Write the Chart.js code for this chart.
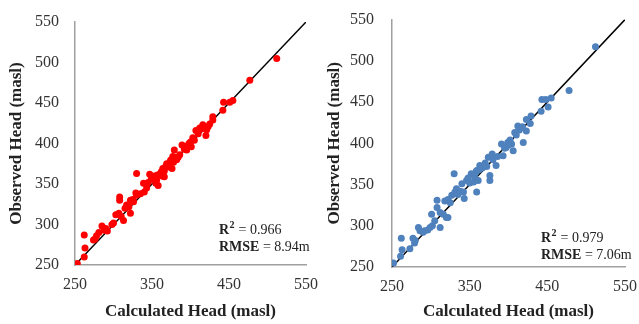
<!DOCTYPE html>
<html>
<head>
<meta charset="utf-8">
<script src="https://cdn.jsdelivr.net/npm/chart.js@4/dist/chart.umd.min.js"></script>
<style>
  body { margin: 0; background: #fff; }
  .wrap { position: absolute; top: 0; height: 324px; }
</style>
</head>
<body>
<div class="wrap" style="left:0;width:320px"><canvas id="chartA" width="320" height="324"></canvas></div>
<div class="wrap" style="left:320px;width:319px"><canvas id="chartB" width="319" height="324"></canvas></div>
<script>
// axis ticks (both panels)
const xTicks = [250, 350, 450, 550];
const yTicks = [250, 300, 350, 400, 450, 500, 550];
const oneToOne = [250, 550];

// left panel: calculated vs observed head (red)
const calcA = [253, 262, 263, 262, 276, 278, 274, 285, 288, 290, 300, 303, 307, 313, 308, 308,
  315, 317, 322, 322, 325, 330, 329, 330, 339, 343, 347, 351, 355, 358, 357, 362, 364, 366,
  369, 371, 374, 376, 377, 379, 382, 386, 389, 395, 398, 401, 403, 407, 412, 416, 420, 423,
  429, 429, 442, 443, 451, 455, 477, 512,
  345, 349, 353, 356, 360, 363, 366, 368, 372, 375, 378, 380, 384, 392, 396, 400, 405, 410,
  414, 418, 421, 425, 298, 310, 320, 326, 335, 340, 281, 292];
const obsA = [252, 260, 271, 287, 282, 286, 281, 298, 293, 295, 302, 312, 314, 305, 330, 334,
  320, 324, 314, 330, 331, 336, 339, 363, 351, 345, 362, 357, 351, 348, 361, 365, 369, 359,
  375, 371, 379, 369, 384, 392, 380, 386, 398, 392, 400, 396, 407, 416, 419, 423, 410, 421,
  433, 429, 441, 451, 451, 453, 478, 505,
  352, 356, 360, 355, 362, 360, 366, 372, 375, 380, 377, 383, 383, 393, 397, 402, 404, 412,
  418, 420, 417, 424, 300, 310, 322, 328, 338, 340, 290, 292];

// right panel: calculated vs observed head (blue)
const calcB = [252, 261, 263, 262, 273, 277, 279, 284, 286, 290, 299, 302, 301, 308, 308, 305,
  312, 316, 320, 322, 318, 322, 327, 331, 333, 330, 340, 343, 342, 346, 352, 359, 355, 361,
  359, 363, 367, 374, 376, 376, 379, 384, 391, 393, 397, 399, 404, 406, 408, 412, 416, 419,
  423, 423, 429, 428, 442, 443, 448, 451, 455, 478, 512,
  338, 348, 350, 356, 358, 362, 366, 370, 372, 380, 386, 395, 400, 402, 410, 414, 418, 296,
  312, 325, 335, 280, 292];
const obsB = [255, 263, 271, 285, 272, 285, 279, 298, 294, 292, 298, 300, 314, 322, 331, 306,
  298, 314, 310, 310, 330, 332, 337, 341, 345, 363, 351, 333, 341, 355, 363, 367, 353, 355,
  341, 373, 371, 383, 361, 355, 387, 373, 399, 385, 395, 401, 399, 391, 413, 421, 419, 401,
  415, 429, 433, 424, 439, 453, 453, 444, 455, 464, 517,
  342, 358, 352, 360, 365, 368, 370, 376, 372, 380, 384, 394, 398, 404, 410, 416, 420, 295,
  316, 328, 338, 282, 294];

function toPoints(xs, ys) {
  return xs.map((x, i) => ({ x: x, y: ys[i] }));
}

// stats text drawn in lower-right of plot area
function statsPlugin(r2, rmse, dx, dy) {
  return {
    id: 'stats',
    afterDraw(chart) {
      const ctx = chart.ctx;
      const a = chart.chartArea;
      const x = a.right - dx;
      let y = a.bottom - dy;
      ctx.save();
      ctx.fillStyle = '#222';
      ctx.textBaseline = 'alphabetic';
      ctx.font = 'bold 14px "Liberation Serif"';
      ctx.fillText('R', x, y);
      let w = ctx.measureText('R').width;
      ctx.font = 'bold 10px "Liberation Serif"';
      ctx.fillText('2', x + w + 0.5, y - 6);
      w += ctx.measureText('2').width + 1;
      ctx.font = '14px "Liberation Serif"';
      ctx.fillText(' = ' + r2, x + w, y);
      y += 17;
      ctx.font = 'bold 14px "Liberation Serif"';
      ctx.fillText('RMSE', x, y);
      w = ctx.measureText('RMSE').width;
      ctx.font = '14px "Liberation Serif"';
      ctx.fillText(' = ' + rmse, x + w, y);
      ctx.restore();
    }
  };
}

function makeChart(id, xs, ys, color, box, stats) {
  const tickFont = { family: '"Liberation Serif"', size: 16 };
  const titleFont = { family: '"Liberation Serif"', size: 17, weight: 'bold' };
  return new Chart(document.getElementById(id).getContext('2d'), {
    type: 'scatter',
    data: {
      datasets: [{
        data: toPoints(xs, ys),
        backgroundColor: color,
        borderColor: color,
        pointRadius: 3.5,
        pointBorderWidth: 0
      }, {
        type: 'line',
        data: toPoints(oneToOne, oneToOne),
        borderColor: '#000',
        borderWidth: 1.5,
        pointRadius: 0,
        fill: false
      }]
    },
    options: {
      responsive: false,
      animation: false,
      layout: { padding: { top: box.top, right: box.right, left: 0, bottom: 0 } },
      plugins: { legend: { display: false }, tooltip: { enabled: false } },
      scales: {
        x: {
          type: 'linear', min: 250, max: 550,
          grid: { display: false },
          border: { display: true, color: '#a0a0a0', width: 1.5 },
          afterBuildTicks: s => { s.ticks = xTicks.map(v => ({ value: v })); },
          afterFit: s => { s.height = box.xh; },
          ticks: { font: tickFont, color: '#333', padding: 2 },
          title: { display: true, text: 'Calculated Head (masl)', font: titleFont, color: '#222', padding: { top: 0, bottom: 2 } }
        },
        y: {
          type: 'linear', min: 250, max: 550,
          grid: { display: false },
          border: { display: true, color: '#a0a0a0', width: 1.5 },
          afterBuildTicks: s => { s.ticks = yTicks.map(v => ({ value: v })); },
          afterFit: s => { s.width = box.yw; },
          ticks: { font: tickFont, color: '#333', padding: box.tk },
          title: { display: true, text: 'Observed Head (masl)', font: titleFont, color: '#222', padding: { top: box.tp, bottom: 0 } }
        }
      }
    },
    plugins: [stats]
  });
}

makeChart('chartA', calcA, obsA, '#ff0000',
  { top: 22, right: 13, xh: 59, yw: 75, tp: 6, tk: 8 },
  statsPlugin('0.966', '8.94m', 87, 31));
makeChart('chartB', calcB, obsB, '#4f81bd',
  { top: 18, right: 13, xh: 57, yw: 72, tp: 4, tk: 10 },
  statsPlugin('0.979', '7.06m', 84, 25));
</script>
</body>
</html>
